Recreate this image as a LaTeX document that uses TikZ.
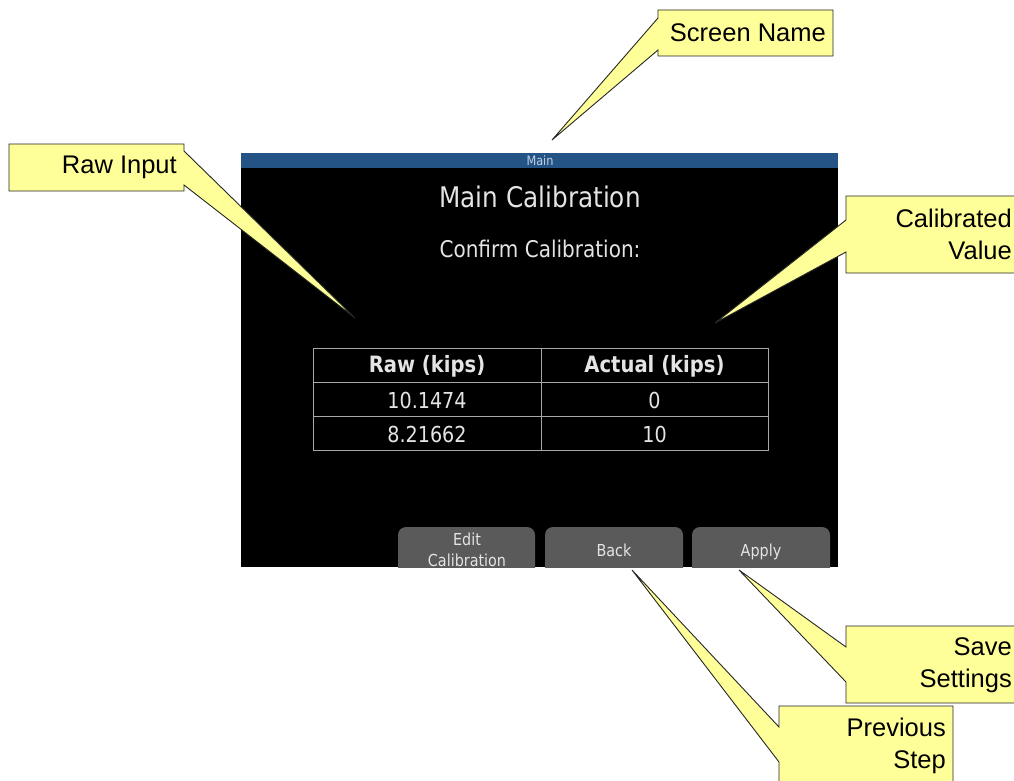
\documentclass[tikz,border=0pt]{standalone}
\usepackage{fontspec}
\setmainfont{Liberation Sans}
\newfontfamily\scrfont[FakeStretch=0.87]{DejaVu Sans}

\definecolor{barblue}{HTML}{245386}
\definecolor{bartext}{HTML}{C4D0E2}
\definecolor{btngray}{HTML}{5A5A5A}
\definecolor{scrtext}{HTML}{E4E4E4}
\definecolor{gridline}{HTML}{A8A8A8}
\definecolor{callfill}{HTML}{FFFF99}

\tikzset{
  callout/.style={fill=callfill, draw=black!85, line width=0.9pt, line join=miter},
  ctext/.style={inner sep=0pt, align=right, font=\fontsize{25.5}{32}\selectfont},
  scrtitle/.style={inner sep=0pt, text=scrtext, font=\scrfont\fontsize{28.4}{34}\selectfont},
  scrsub/.style={inner sep=0pt, text=scrtext, font=\scrfont\fontsize{23}{28}\selectfont},
  thead/.style={inner sep=0pt, text=scrtext, font=\scrfont\bfseries\fontsize{22.5}{27}\selectfont},
  tcell/.style={inner sep=0pt, text=scrtext, font=\scrfont\fontsize{22}{27}\selectfont},
  btntext/.style={inner sep=0pt, text=scrtext, align=center, font=\scrfont\fontsize{16.5}{21}\selectfont},
}

\begin{document}
\begin{tikzpicture}[x=1pt, y=-1pt]
\useasboundingbox (0,0) rectangle (1014,781);
\clip (0,0) rectangle (1014,781);

% ---- device screen ----
\fill[black] (241,153) rectangle (838,567);
\fill[barblue] (241,153) rectangle (838,168);
\node[inner sep=0pt, text=bartext, font=\scrfont\fontsize{13}{15}\selectfont] (bar) at (540,160.5) {Main};

\node[scrtitle] (title) at (540,197) {Main Calibration};
\node[scrsub] (confirm) at (540,249) {Confirm Calibration:};

% calibration table
\draw[gridline, line width=1pt] (313,348) rectangle (768,450);
\draw[gridline, line width=1pt] (313,382) -- (768,382);
\draw[gridline, line width=1pt] (313,416) -- (768,416);
\draw[gridline, line width=1pt] (541,348) -- (541,450);
\node[thead] (h1) at (427,366) {Raw (kips)};
\node[thead] (h2) at (654.5,366) {Actual (kips)};
\node[tcell] (r1a) at (427,400) {10.1474};
\node[tcell] (r1b) at (654.5,400) {0};
\node[tcell] (r2a) at (427,434) {8.21662};
\node[tcell] (r2b) at (654.5,434) {10};

% soft keys along the bottom edge
\begin{scope}
  \clip (241,153) rectangle (838,567);
  \fill[btngray, rounded corners=8pt] (398,527) rectangle (535,590);
  \fill[btngray, rounded corners=8pt] (545,527) rectangle (683,590);
  \fill[btngray, rounded corners=8pt] (692,527) rectangle (830,590);
\end{scope}
\node[btntext] (edit) at (467,549.5) {Edit\\Calibration};
\node[btntext] (back) at (614,550) {Back};
\node[btntext] (apply) at (761,551.5) {Apply};

% ---- callouts ----
\coordinate (tipname) at (552,140);
\coordinate (tipraw) at (355,318);
\coordinate (tipcal) at (715,323);
\coordinate (tipsave) at (739,570);
\coordinate (tipprev) at (632,570);

\draw[callout] (658,10) -- (833,10) -- (833,56) -- (658,56) -- (658,50)
  -- (tipname) -- (658,18) -- cycle;
\node[ctext, anchor=east] (screenname) at (826,33) {Screen Name};

\draw[callout] (9,144) -- (184,144) -- (184,151) -- (tipraw) -- (184,185)
  -- (184,191) -- (9,191) -- cycle;
\node[ctext, anchor=east] (rawinput) at (177,167) {Raw Input};

\draw[callout] (846,196) -- (1020,196) -- (1020,273) -- (846,273) -- (846,252)
  -- (tipcal) -- (846,220) -- cycle;
\node[ctext, anchor=east] (calvalue) at (1012,234) {Calibrated\\Value};

\draw[callout] (846,626) -- (1020,626) -- (1020,703) -- (846,703) -- (846,682)
  -- (tipsave) -- (846,647) -- cycle;
\node[ctext, anchor=east] (savesettings) at (1012,665.5) {Save\\Settings};

\draw[callout] (779,706) -- (953,706) -- (953,790) -- (779,790) -- (779,762)
  -- (tipprev) -- (779,727) -- cycle;
\node[ctext, anchor=east] (prevstep) at (946,746) {Previous\\Step};

\end{tikzpicture}
\end{document}
